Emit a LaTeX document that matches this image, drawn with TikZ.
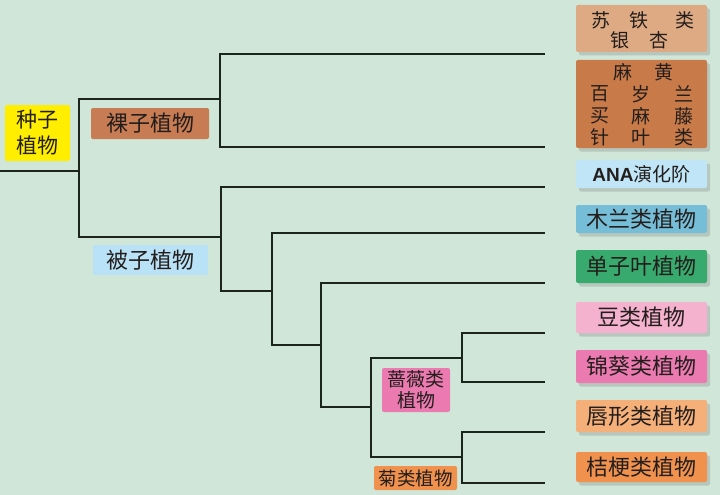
\documentclass[tikz,border=0pt]{standalone}
\usepackage{fontspec}
\setmainfont{Noto Sans CJK SC}
\newfontfamily\anafont{Liberation Sans}
\usetikzlibrary{shadows}

\definecolor{bgmint}{RGB}{207,230,216}
\definecolor{linedark}{RGB}{28,36,30}
\definecolor{textdark}{RGB}{35,30,28}
\definecolor{seedyellow}{RGB}{255,238,0}
\definecolor{gymbrown}{RGB}{199,124,84}
\definecolor{angblue}{RGB}{186,226,246}
\definecolor{cycadtan}{RGB}{222,170,132}
\definecolor{ephedrabrown}{RGB}{200,122,72}
\definecolor{anablue}{RGB}{192,229,246}
\definecolor{magnolblue}{RGB}{118,190,216}
\definecolor{monogreen}{RGB}{56,170,110}
\definecolor{fabpink}{RGB}{245,178,206}
\definecolor{malvpink}{RGB}{234,122,176}
\definecolor{lampeach}{RGB}{245,176,122}
\definecolor{camporange}{RGB}{240,146,78}

\tikzset{
  branch/.style={line width=2.6pt, draw=linedark},
  leaf/.style={rounded corners=2pt, minimum width=131pt, inner sep=0pt,
    text=textdark, font=\fontsize{22}{24}\selectfont,
    drop shadow={shadow xshift=3pt, shadow yshift=-3.5pt, opacity=0.3}},
  tag/.style={rounded corners=2pt, inner sep=0pt, text=textdark,
    align=center},
  small/.style={text=textdark, inner sep=0pt, font=\fontsize{19}{22}\selectfont}
}

\begin{document}
\begin{tikzpicture}[x=1pt,y=-1pt]
  % Hintergrund
  \fill[bgmint] (0,0) rectangle (720,495);
  \useasboundingbox (0,0) rectangle (720,495);

  % Verzweigungspunkte
  \coordinate (root) at (0,171);
  \coordinate (seed) at (79,171);
  \coordinate (gym) at (220,99);
  \coordinate (ang) at (221,237);
  \coordinate (mesang) at (272,291);
  \coordinate (core) at (321,345);
  \coordinate (eud) at (371,407);
  \coordinate (ros) at (462,358);
  \coordinate (ast) at (462,457);

  % Enden der Aeste
  \coordinate (e1) at (545,54);
  \coordinate (e2) at (545,147);
  \coordinate (e3) at (545,187);
  \coordinate (e4) at (545,233);
  \coordinate (e5) at (545,283);
  \coordinate (e6) at (545,333);
  \coordinate (e7) at (545,382);
  \coordinate (e8) at (545,432);
  \coordinate (e9) at (545,483);

  % Baum
  \draw[branch] (root) -- (seed);
  \draw[branch] (seed) |- (gym);
  \draw[branch] (seed) |- (ang);
  \draw[branch] (gym) |- (e1);
  \draw[branch] (gym) |- (e2);
  \draw[branch] (ang) |- (e3);
  \draw[branch] (ang) |- (mesang);
  \draw[branch] (mesang) |- (e4);
  \draw[branch] (mesang) |- (core);
  \draw[branch] (core) |- (e5);
  \draw[branch] (core) |- (eud);
  \draw[branch] (eud) |- (ros);
  \draw[branch] (eud) |- (ast);
  \draw[branch] (ros) |- (e6);
  \draw[branch] (ros) |- (e7);
  \draw[branch] (ast) |- (e8);
  \draw[branch] (ast) |- (e9);

  % Gruppen
  \node[tag, fill=seedyellow, minimum width=65pt, minimum height=56pt,
    font=\fontsize{21}{26}\selectfont] (seedtag) at (37.5,133) {种子\\植物};
  \node[tag, fill=gymbrown, minimum width=118pt, minimum height=31pt,
    font=\fontsize{22}{24}\selectfont] (gymtag) at (150,123.5) {裸子植物};
  \node[tag, fill=angblue, rounded corners=0pt, minimum width=115pt, minimum height=30pt,
    font=\fontsize{22}{24}\selectfont] (angtag) at (150.5,260) {被子植物};
  \node[tag, fill=malvpink, minimum width=68pt, minimum height=44pt,
    font=\fontsize{19}{21}\selectfont] (rostag) at (416,390) {蔷薇类\\植物};
  \node[tag, fill=camporange, minimum width=83pt, minimum height=24pt,
    font=\fontsize{18.5}{21}\selectfont] (asttag) at (415.5,478) {菊类植物};

  % Blaetter
  \node[leaf, fill=cycadtan, minimum height=47pt] (cycad) at (641.5,28.5) {};
  \node[small] (c1) at (601,20) {苏};
  \node[small] (c2) at (639,20) {铁};
  \node[small] (c3) at (685,20) {类};
  \node[small] (c4) at (620,40) {银};
  \node[small] (c5) at (659,40) {杏};

  \node[leaf, fill=ephedrabrown, minimum height=88pt] (ephedra) at (641.5,104) {};
  \node[small] (p1) at (623,72) {麻};
  \node[small] (p2) at (664,72) {黄};
  \node[small] (p3) at (600,94) {百};
  \node[small] (p4) at (641,94) {岁};
  \node[small] (p5) at (684,94) {兰};
  \node[small] (p6) at (600,116) {买};
  \node[small] (p7) at (641,116) {麻};
  \node[small] (p8) at (684,116) {藤};
  \node[small] (p9) at (600,137) {针};
  \node[small] (p10) at (641,137) {叶};
  \node[small] (p11) at (684,137) {类};

  \node[leaf, fill=anablue, minimum height=28pt, font=\fontsize{19}{22}\selectfont]
    (ana) at (641.5,174) {{\anafont\bfseries ANA}演化阶};
  \node[leaf, fill=magnolblue, minimum height=28pt] (magnol) at (641.5,219) {木兰类植物};
  \node[leaf, fill=monogreen, minimum height=33pt] (mono) at (641.5,266.5) {单子叶植物};
  \node[leaf, fill=fabpink, minimum height=31pt] (fabid) at (641.5,317.5) {豆类植物};
  \node[leaf, fill=malvpink, minimum height=33pt] (malvid) at (641.5,366.5) {锦葵类植物};
  \node[leaf, fill=lampeach, minimum height=32pt] (lamiid) at (641.5,416) {唇形类植物};
  \node[leaf, fill=camporange, minimum height=30pt] (campan) at (641.5,467) {桔梗类植物};
\end{tikzpicture}
\end{document}
